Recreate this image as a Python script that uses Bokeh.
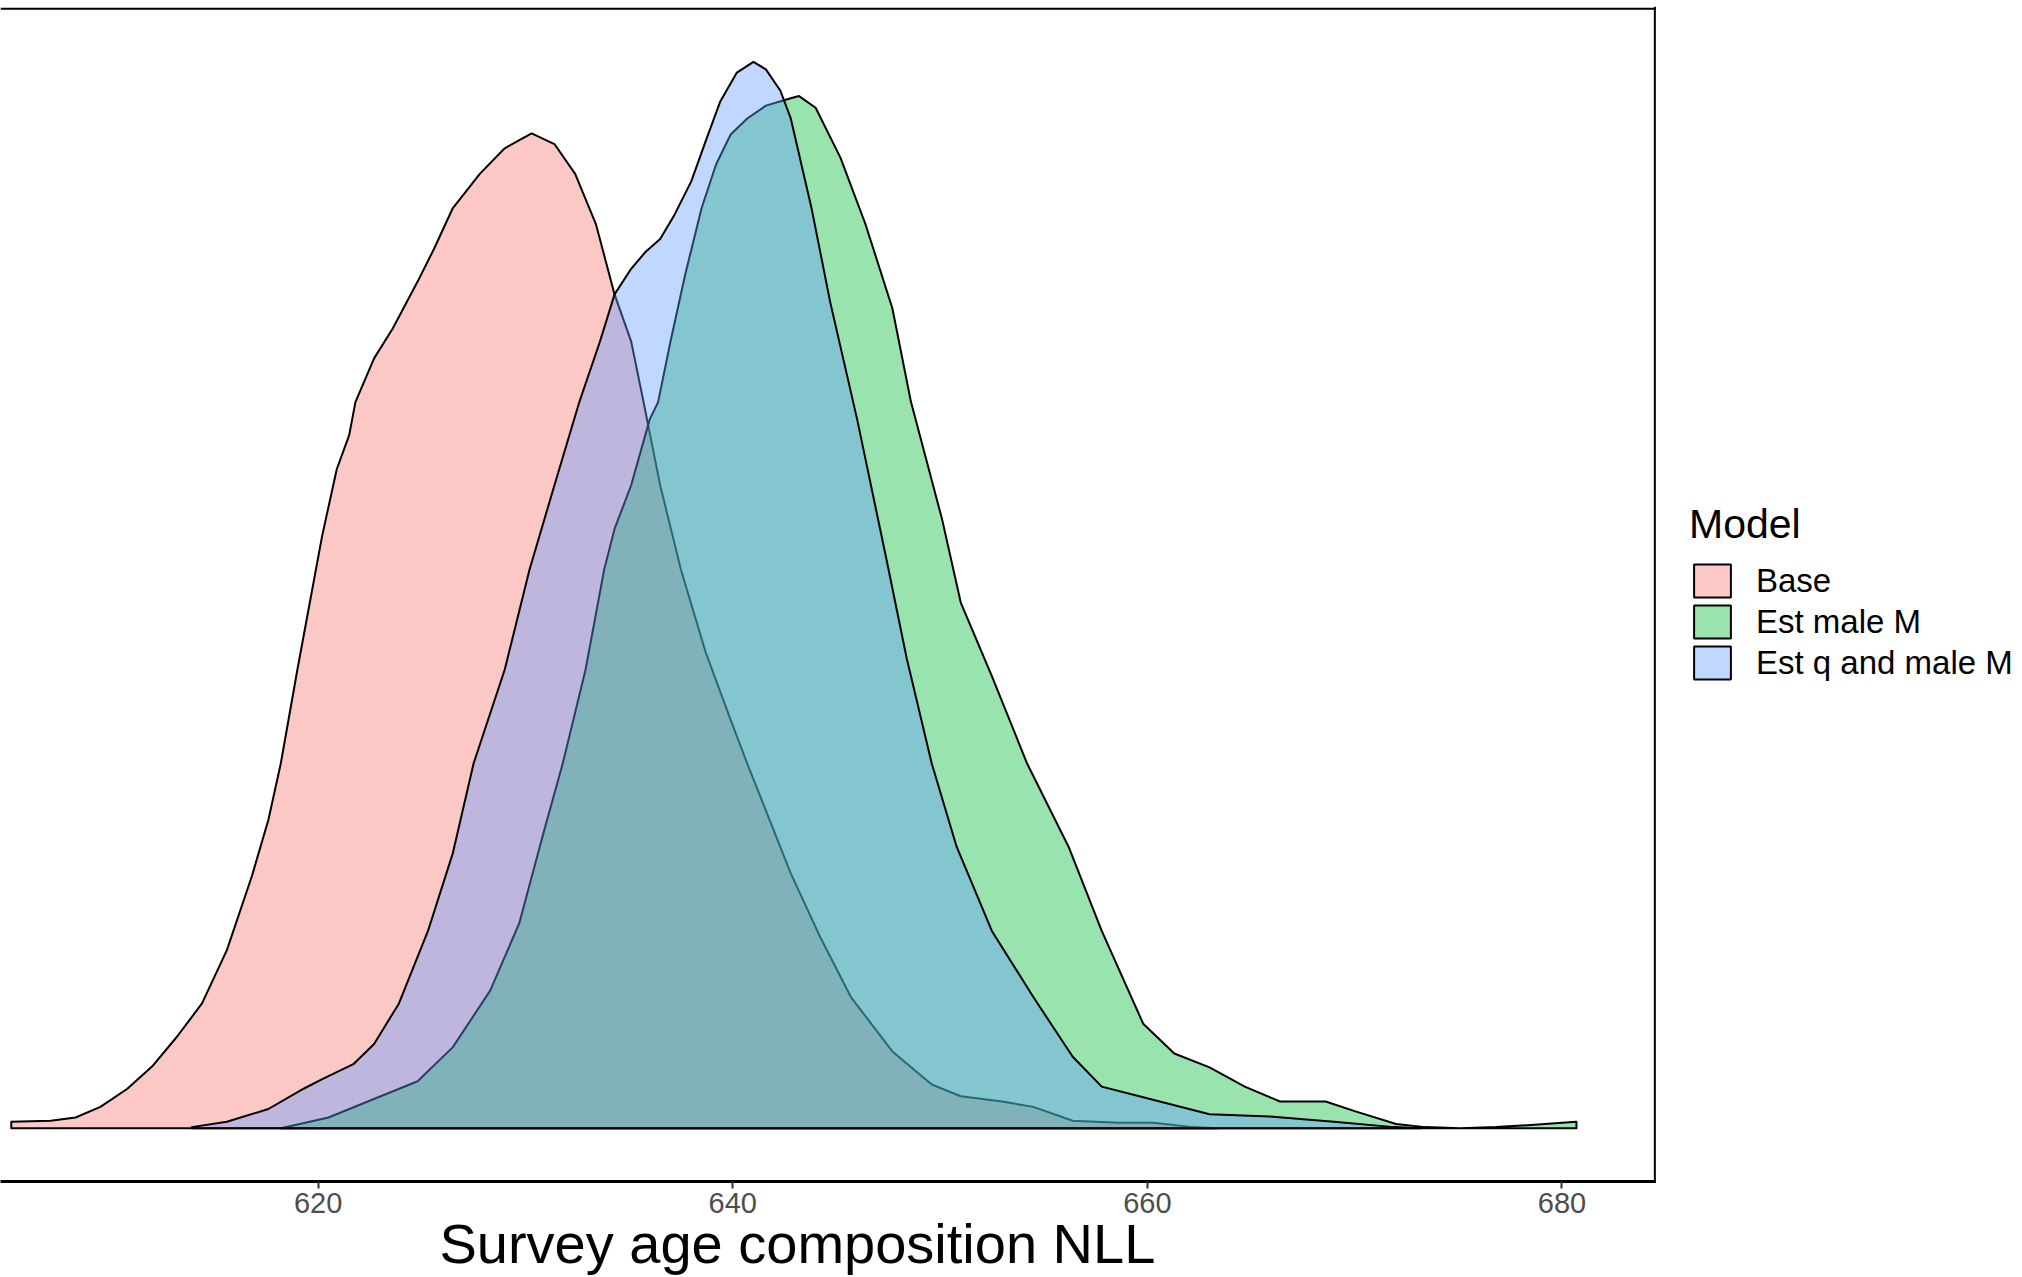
from bokeh.plotting import figure
from bokeh.layouts import row
from bokeh.models import Range1d, FixedTicker, Span, Legend, LegendItem
from bokeh.embed import file_html
from bokeh.resources import INLINE

# ---------------- data ----------------
models = ["Base", "Est male M", "Est q and male M"]
colors = ["#F8766D", "#00BA38", "#619CFF"]

base_x = [605.2, 607.1, 608.3, 609.5, 610.8, 612.0, 613.2, 614.4, 615.6, 616.8,
          617.6, 618.2, 619.0, 619.6, 620.2, 620.9, 621.5, 621.8, 622.7, 623.6,
          624.8, 625.6, 626.5, 627.8, 629.0, 630.3, 631.4, 632.4, 633.4, 634.3,
          635.1, 635.7, 636.5, 637.5, 638.7, 639.9, 640.7, 642.8, 644.2, 645.7,
          647.7, 649.6, 651.0, 653.0, 654.5, 656.4, 658.6, 660.3, 662.2, 663.4]
base_density = [0.006, 0.007, 0.010, 0.020, 0.037, 0.058, 0.086, 0.117, 0.167, 0.236,
                0.289, 0.342, 0.430, 0.493, 0.556, 0.618, 0.650, 0.681, 0.722, 0.750,
                0.794, 0.825, 0.863, 0.895, 0.919, 0.933, 0.923, 0.895, 0.848, 0.782,
                0.738, 0.681, 0.603, 0.524, 0.446, 0.383, 0.342, 0.239, 0.180, 0.123,
                0.072, 0.041, 0.030, 0.025, 0.020, 0.007, 0.005, 0.005, 0.001, 0.0]

male_x = [618.2, 620.5, 622.9, 624.8, 626.5, 628.3, 629.7, 630.9, 631.8, 632.9,
          633.8, 634.3, 635.1, 636.0, 636.4, 637.0, 637.7, 638.5, 639.2, 639.9,
          640.7, 641.6, 642.8, 643.2, 644.0, 645.2, 646.4, 647.7, 648.6, 650.1,
          651.0, 652.5, 654.2, 656.2, 657.8, 659.8, 661.3, 663.0, 664.7, 666.4,
          668.6, 670.0, 672.0, 673.4, 675.1, 676.8, 678.5, 680.7]
male_density = [0.0, 0.010, 0.029, 0.044, 0.076, 0.129, 0.192, 0.279, 0.342, 0.430,
                0.524, 0.562, 0.603, 0.665, 0.681, 0.738, 0.800, 0.863, 0.904, 0.932,
                0.947, 0.959, 0.966, 0.968, 0.957, 0.910, 0.848, 0.769, 0.681, 0.571,
                0.493, 0.424, 0.342, 0.264, 0.185, 0.098, 0.070, 0.057, 0.039, 0.025,
                0.025, 0.016, 0.004, 0.001, 0.0, 0.001, 0.003, 0.006]

q_male_x = [613.9, 615.6, 617.6, 619.3, 620.2, 621.7, 622.7, 623.9, 625.3, 626.5,
            627.5, 629.0, 630.2, 631.4, 632.6, 633.6, 634.3, 635.1, 635.8, 636.5,
            637.2, 638.0, 638.7, 639.4, 640.2, 641.0, 641.6, 642.3, 642.8, 643.8,
            644.7, 646.0, 647.4, 648.4, 649.6, 650.8, 652.5, 654.5, 656.4, 657.8,
            659.8, 663.0, 665.9, 669.0, 671.9, 673.2]
q_male_density = [0.001, 0.006, 0.018, 0.037, 0.046, 0.060, 0.079, 0.117, 0.185, 0.258,
                  0.342, 0.430, 0.524, 0.603, 0.681, 0.738, 0.782, 0.806, 0.822, 0.834,
                  0.857, 0.888, 0.926, 0.963, 0.990, 1.0, 0.993, 0.973, 0.947, 0.863,
                  0.775, 0.665, 0.535, 0.440, 0.342, 0.264, 0.185, 0.123, 0.067, 0.039,
                  0.029, 0.013, 0.011, 0.006, 0.001, 0.0]

x_ticks = [620, 640, 660, 680]
x_label = "Survey age composition NLL"
legend_title = "Model"

FONT = "Liberation Sans"

series = [(base_x, base_density), (male_x, male_density), (q_male_x, q_male_density)]


def density_polygon(xs, ys):
    return [xs[0]] + list(xs) + [xs[-1]], [0.0] + list(ys) + [0.0]


# ---------------- main panel ----------------
p = figure(width=1656, height=1277,
           x_range=Range1d(604.68, 684.56), y_range=Range1d(-0.05, 1.052),
           output_backend="svg", toolbar_location=None, y_axis_location=None,
           min_border_left=0, min_border_right=0, min_border_top=6, min_border_bottom=0)
p.outline_line_color = None
p.xgrid.visible = False
p.ygrid.visible = False
p.background_fill_color = "white"
p.border_fill_color = "white"

for (xs, ys), c in zip(series, colors):
    px, py = density_polygon(xs, ys)
    p.patch(px, py, fill_color=c, fill_alpha=0.4, line_color="black",
            line_width=2, line_join="round")

# panel border (top & right); the left edge is cropped in the reference
p.add_layout(Span(location=1.05, dimension="width", line_color="black", line_width=2))
p.add_layout(Span(location=684.48, dimension="height", line_color="black", line_width=2))

ax = p.xaxis[0]
ax.ticker = FixedTicker(ticks=x_ticks)
ax.axis_line_color = "black"
ax.axis_line_width = 3
ax.major_tick_line_color = "#333333"
ax.major_tick_line_width = 2
ax.major_tick_out = 7
ax.major_tick_in = 0
ax.minor_tick_line_color = None
ax.major_label_text_font = FONT
ax.major_label_text_font_size = "29px"
ax.major_label_text_color = "#4D4D4D"
ax.major_label_standoff = 4
# trailing no-break spaces shift the centred title onto the (partly cropped) ggplot panel centre
ax.axis_label = x_label + "\u00a0\u00a0\u00a0\u00a0"
ax.axis_label_text_font = FONT
ax.axis_label_text_font_size = "56px"
ax.axis_label_text_font_style = "normal"
ax.axis_label_text_color = "black"
ax.axis_label_standoff = -4

# ---------------- legend panel ----------------
# the key renderers hold the same series but lie outside this panel's (empty) view
q = figure(width=366, height=1277, output_backend="svg", toolbar_location=None,
           x_range=Range1d(0, 1), y_range=Range1d(10, 11),
           x_axis_location=None, y_axis_location=None,
           min_border_left=0, min_border_right=0, min_border_top=0, min_border_bottom=0)
q.outline_line_color = None
q.xgrid.visible = False
q.ygrid.visible = False
q.background_fill_color = "white"
q.border_fill_color = "white"

key_renderers = []
for (xs, ys), c in zip(series, colors):
    px, py = density_polygon(xs, ys)
    key_renderers.append(q.patch(px, py, fill_color=c, fill_alpha=0.4,
                                 line_color="black", line_width=2))

legend = Legend(
    items=[LegendItem(label=m, renderers=[r]) for m, r in zip(models, key_renderers)],
    location=(33, 498),
    title=legend_title,
    title_text_font=FONT, title_text_font_size="41px", title_text_font_style="normal",
    title_text_color="black", title_standoff=12,
    label_text_font=FONT, label_text_font_size="33px", label_text_color="black",
    glyph_width=46, glyph_height=41, spacing=0, label_standoff=21,
    padding=0, margin=0, border_line_color=None, background_fill_alpha=0.0,
)
q.add_layout(legend, "center")

layout = row(p, q, spacing=0)
open("out.html", "w").write(file_html(layout, INLINE))
